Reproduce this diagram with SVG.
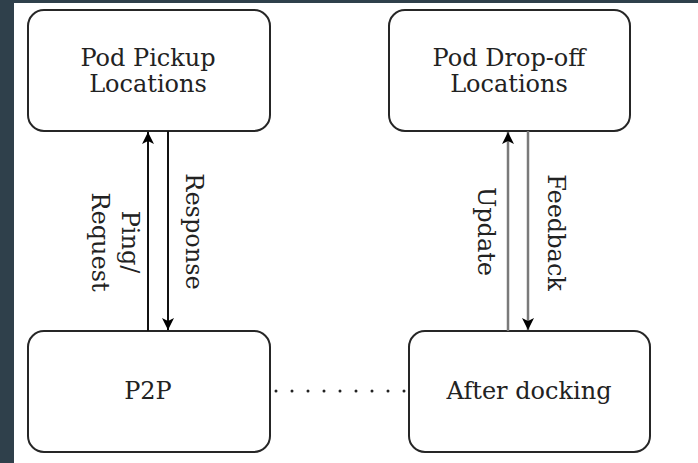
<svg xmlns="http://www.w3.org/2000/svg" width="698" height="463" viewBox="0 0 698 463">
<defs>
<style>
.box{fill:#fff;stroke:#262626;stroke-width:2}
.lbl{font-family:"DejaVu Serif",serif;font-size:24px;fill:#222;text-anchor:middle}
.ln{stroke:#111;stroke-width:2;fill:none}
.lg{stroke:#7a7a7a;stroke-width:2.5;fill:none}
</style>
<marker id="ah" viewBox="0 0 12 12" refX="12" refY="6" markerWidth="12" markerHeight="12" markerUnits="userSpaceOnUse" orient="auto">
<path d="M0,0 L12,6 L0,12 L3,6 Z" fill="#000"/>
</marker>
</defs>
<rect x="0" y="0" width="698" height="463" fill="#fff"/>
<rect x="0" y="0" width="698" height="3" fill="#2f404b"/>
<rect x="0" y="0" width="14" height="463" fill="#2f404b"/>
<g id="pickup">
<rect class="box" x="28" y="10" width="242" height="121" rx="16"/>
<text class="lbl" x="148" y="66">Pod Pickup</text>
<text class="lbl" x="148" y="92">Locations</text>
</g>
<g id="dropoff">
<rect class="box" x="389" y="10" width="241" height="121" rx="16"/>
<text class="lbl" x="509" y="66">Pod Drop-off</text>
<text class="lbl" x="509" y="92">Locations</text>
</g>
<g id="p2p">
<rect class="box" x="28" y="331" width="242" height="121" rx="16"/>
<text class="lbl" x="148" y="399">P2P</text>
</g>
<g id="docking">
<rect class="box" x="409" y="331" width="241" height="121" rx="16"/>
<text class="lbl" x="529" y="399">After docking</text>
</g>
<g id="connectors">
<line class="ln" x1="148" y1="331" x2="148" y2="132" marker-end="url(#ah)"/>
<line class="ln" x1="168" y1="131" x2="168" y2="330" marker-end="url(#ah)"/>
<line class="lg" x1="508" y1="331" x2="508" y2="132" marker-end="url(#ah)"/>
<line class="lg" x1="528" y1="131" x2="528" y2="330" marker-end="url(#ah)"/>
<line x1="276" y1="391" x2="406" y2="391" stroke="#222" stroke-width="3" stroke-linecap="round" stroke-dasharray="0 16"/>
<text class="lbl" transform="translate(122,242) rotate(90)">Ping/</text>
<text class="lbl" transform="translate(92,242) rotate(90)">Request</text>
<text class="lbl" transform="translate(186,231.5) rotate(90)">Response</text>
<text class="lbl" transform="translate(478,231.5) rotate(90)">Update</text>
<text class="lbl" transform="translate(548,232.5) rotate(90)">Feedback</text>
</g>
</svg>
